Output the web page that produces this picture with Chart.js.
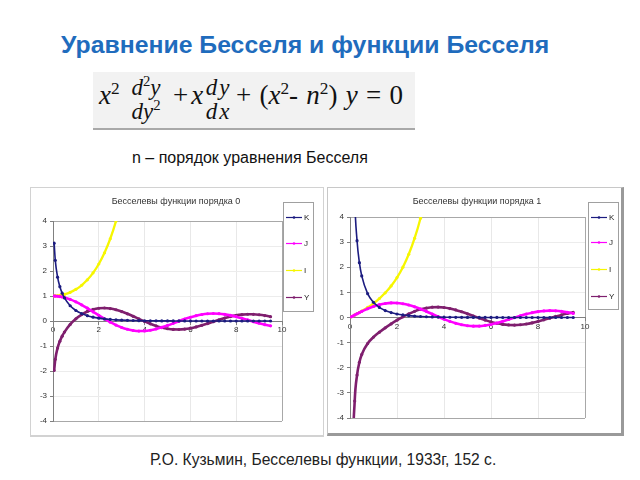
<!DOCTYPE html>
<html><head><meta charset="utf-8">
<script src="https://cdn.jsdelivr.net/npm/chart.js@4.4.0/dist/chart.umd.min.js"></script>
<style>
html,body{margin:0;padding:0;background:#fff;width:640px;height:480px;overflow:hidden;font-family:"Liberation Sans",Arial,sans-serif;}
.abs{position:absolute;white-space:nowrap;}
#title{left:61px;top:31px;font-weight:bold;font-size:24.8px;color:#1f6cbd;}
#eqbox{left:93px;top:72px;width:322px;height:56px;background:#f2f2f2;border-bottom:2px solid #a9a9a9;}
.eq{position:absolute;white-space:nowrap;font-family:"Liberation Serif","DejaVu Serif",serif;color:#111;line-height:1;}
.eq i{font-style:italic;}
.eq sup{font-size:0.64em;vertical-align:0.6em;line-height:0;font-style:normal;}
.m{font-size:27px;top:82px;}
.fn{font-size:23px;top:76px;text-align:center;}
.fd{font-size:23px;top:100px;text-align:center;}
#sub{left:132px;top:149px;font-size:16px;color:#111;}
#cap{left:150px;top:451px;font-size:15.6px;color:#222;}
.box{position:absolute;}
#c1{left:30px;top:187px;width:292px;height:247px;border:1px solid #d2d2d2;border-bottom:2px solid #d2d2d2;}
#c2{left:327px;top:187px;width:293px;height:245px;border:1px solid #c8c8c8;border-right:3px solid #9a9a9a;border-bottom:3px solid #9a9a9a;}
canvas{display:block;}
</style></head>
<body>
<div id="title" class="abs">Уравнение Бесселя и функции Бесселя</div>
<div id="eqbox" class="abs"></div>
<span class="eq m" style="left:99px"><i>x</i><sup>2</sup></span>
<span class="eq fn" style="left:128px;width:36px"><i>d</i><sup>2</sup><i>y</i></span>
<span class="eq fd" style="left:128px;width:36px"><i>dy</i><sup>2</sup></span>
<span class="eq m" style="left:173px">+<span style="margin-left:3px"></span><i>x</i></span>
<span class="eq fn" style="left:203px;width:31px;letter-spacing:2px"><i>dy</i></span>
<span class="eq fd" style="left:203px;width:31px;letter-spacing:2px"><i>dx</i></span>
<span class="eq m" style="left:236px;word-spacing:1.5px">+ (<i>x</i><sup>2</sup>- <i>n</i><sup>2</sup>) <i>y</i> = 0</span>
<div id="sub" class="abs">n – порядок уравнения Бесселя</div>
<div id="c1" class="box"><canvas id="ch1" width="292" height="247"></canvas></div>
<div id="c2" class="box"><canvas id="ch2" width="293" height="245"></canvas></div>
<div id="cap" class="abs">Р.О. Кузьмин, Бесселевы функции, 1933г, 152 с.</div>
<script>
// ---- data ----
const xValues = [0.05,0.1,0.2,0.3,0.4,0.5,0.75,1.0,1.25,1.5,1.75,2.0,2.25,2.5,2.75,3.0,3.25,3.5,3.75,4.0,4.25,4.5,4.75,5.0,5.25,5.5,5.75,6.0,6.25,6.5,6.75,7.0,7.25,7.5,7.75,8.0,8.25,8.5,8.75,9.0,9.25,9.5];
const seriesNames = ['K','J','I','Y'];
const chartTitles = ['Бесселевы функции порядка 0','Бесселевы функции порядка 1'];

const k0 = [3.114,2.427,1.753,1.372,1.115,0.924,0.611,0.421,0.298,0.214,0.155,0.114,0.084,0.062,0.046,0.035,0.026,0.020,0.015,0.011,0.0085,0.0064,0.0049,0.0037,0.0028,0.0022,0.0017,0.0012,0.0010,0.0007,0.0006,0.0004,0.0003,0.0003,0.0002,0.0001,0.0001,0.0001,0.0001,0.0001,0.0001,0.0000];
const j0 = [0.9994,0.9975,0.9900,0.9776,0.9604,0.9385,0.8642,0.7652,0.6459,0.5118,0.3690,0.2239,0.0825,-0.0484,-0.1641,-0.2601,-0.3304,-0.3801,-0.4010,-0.3971,-0.3694,-0.3205,-0.2539,-0.1776,-0.0944,-0.0068,0.0762,0.1506,0.2134,0.2601,0.2895,0.3001,0.2919,0.2663,0.2255,0.1717,0.1093,0.0419,-0.0259,-0.0903,-0.1477,-0.1939];
const i0 = [1.0006,1.0025,1.0100,1.0226,1.0404,1.0635,1.1456,1.2661,1.4296,1.6467,1.9252,2.2796,2.7271,3.2898,3.9960,4.8808,5.989,null,null,null,null,null,null,null,null,null,null,null,null,null,null,null,null,null,null,null,null,null,null,null,null,null];
const y0 = [-1.979,-1.534,-1.081,-0.807,-0.606,-0.444,-0.137,0.088,0.258,0.382,0.464,0.510,0.520,0.498,0.450,0.377,0.288,0.189,0.084,-0.017,-0.112,-0.195,-0.261,-0.309,-0.336,-0.339,-0.324,-0.288,-0.237,-0.173,-0.102,-0.026,0.048,0.117,0.177,0.224,0.255,0.270,0.269,0.250,0.217,0.172];

const k1 = [19.91,9.854,4.776,3.056,2.184,1.656,0.950,0.602,0.402,0.277,0.195,0.140,0.101,0.074,0.054,0.040,0.030,0.022,0.017,0.0125,0.0094,0.0071,0.0054,0.0040,0.0031,0.0024,0.0018,0.0013,0.0010,0.0008,0.0006,0.0005,0.0004,0.0003,0.0002,0.0002,0.0001,0.0001,0.0001,0.0001,0.0001,0.0001];
const j1 = [0.0250,0.0499,0.0995,0.1483,0.1960,0.2423,0.3492,0.4401,0.5106,0.5579,0.5802,0.5767,0.5480,0.4971,0.4257,0.3391,0.2410,0.1374,0.0333,-0.0660,-0.1551,-0.2311,-0.2888,-0.3276,-0.3438,-0.3414,-0.3169,-0.2767,-0.2197,-0.1538,-0.0805,-0.0047,0.0686,0.1352,0.1914,0.2346,0.2618,0.2731,0.2668,0.2453,0.2089,0.1613];
const i1 = [0.0250,0.0501,0.1005,0.1517,0.2040,0.2579,0.4020,0.5652,0.7553,0.9817,1.2555,1.5906,2.0040,2.5167,3.1554,3.9534,4.9525,null,null,null,null,null,null,null,null,null,null,null,null,null,null,null,null,null,null,null,null,null,null,null,null,null];
const y1 = [-12.79,-6.459,-3.324,-2.293,-1.781,-1.471,-1.037,-0.781,-0.584,-0.412,-0.254,-0.107,0.028,0.146,0.245,0.325,0.377,0.410,0.413,0.398,0.356,0.301,0.228,0.148,0.060,-0.024,-0.104,-0.175,-0.232,-0.274,-0.297,-0.303,-0.289,-0.259,-0.214,-0.158,-0.094,-0.026,0.041,0.104,0.159,0.203];

// ---- styles ----
const seriesColors = ['#1c1c80','#ff00ff','#f6f600','#7f1f6e'];
const seriesWidths = [1.6,2.6,2.3,2.6];
const FONT = '"Liberation Sans", Arial, sans-serif';

const overlay = {
  id: 'overlay',
  afterDraw(chart, args, o) {
    const ctx = chart.ctx;
    ctx.save();
    ctx.font = '9px ' + FONT;
    ctx.fillStyle = '#333';
    ctx.textAlign = 'center';
    ctx.textBaseline = 'middle';
    ctx.fillText(o.title, o.titleX, o.titleY);
    const L = o.legend;
    ctx.fillStyle = '#fff';
    ctx.fillRect(L.x, L.y, L.w, L.h);
    ctx.strokeStyle = '#a0a0a0';
    ctx.lineWidth = 1;
    ctx.strokeRect(L.x + 0.5, L.y + 0.5, L.w, L.h);
    ctx.font = '8px ' + FONT;
    ctx.textAlign = 'left';
    chart.data.datasets.forEach((ds, i) => {
      const y = L.items[i] + 0.5;
      ctx.strokeStyle = ds.borderColor;
      ctx.lineWidth = 1.2;
      ctx.beginPath(); ctx.moveTo(L.x + 3, y); ctx.lineTo(L.x + 19, y); ctx.stroke();
      ctx.fillStyle = ds.borderColor;
      ctx.beginPath(); ctx.arc(L.x + 11, y, 1.3, 0, Math.PI * 2); ctx.fill();
      ctx.fillStyle = '#222';
      ctx.fillText(ds.label, L.x + 21, y);
    });
    ctx.restore();
  }
};

function gridColorY(c) {
  const v = c.tick ? c.tick.value : null;
  if (v === 0) return '#808080';
  if (v === 4 || v === -4) return '#a8a8a8';
  return '#ececec';
}
function gridColorX(c) {
  const v = c.tick ? c.tick.value : null;
  if (v === 0) return '#808080';
  if (v === 10) return '#a8a8a8';
  return '#e8e8e8';
}

function makeChart(id, title, series, geom) {
  const datasets = series.map((vals, i) => ({
    label: seriesNames[i],
    data: xValues.map((x, k) => ({x: x, y: vals[k]})),
    borderColor: seriesColors[i],
    backgroundColor: seriesColors[i],
    pointBackgroundColor: seriesColors[i],
    pointBorderWidth: 0,
    pointRadius: 1.6,
    borderWidth: seriesWidths[i],
    cubicInterpolationMode: 'monotone',
    spanGaps: false
  }));
  return new Chart(document.getElementById(id), {
    type: 'line',
    data: {datasets},
    plugins: [overlay],
    options: {
      responsive: false,
      animation: false,
      devicePixelRatio: 1,
      layout: {padding: geom.padding},
      plugins: {
        legend: {display: false},
        tooltip: {enabled: false},
        title: {display: false},
        overlay: {title: title, titleX: geom.titleX, titleY: geom.titleY, legend: geom.legend}
      },
      scales: {
        x: {
          type: 'linear', min: 0, max: 10,
          position: {y: 0},
          ticks: {stepSize: 2, color: '#333', font: {size: 8, family: FONT}, padding: 1, maxRotation: 0, autoSkip: false},
          grid: {color: gridColorX, tickColor: '#808080', tickLength: 3, lineWidth: 1},
          border: {display: true, color: '#808080'},
          afterFit(s) { s.paddingLeft = 0; s.paddingRight = 0; }
        },
        y: {
          type: 'linear', min: -4, max: 4,
          ticks: {stepSize: 1, color: '#333', font: {size: 8, family: FONT}, padding: 3},
          grid: {color: gridColorY, tickColor: '#808080', tickLength: 3, lineWidth: 1},
          border: {display: true, color: '#808080'},
          afterFit(s) { s.width = 22; s.paddingTop = 0; s.paddingBottom = 0; }
        }
      }
    }
  });
}

makeChart('ch1', chartTitles[0], [k0, j0, i0, y0], {
  padding: {left: 0, top: 33, right: 41, bottom: 14},
  titleX: 145, titleY: 14,
  legend: {x: 252, y: 14, w: 30, h: 109, items: [29, 55, 82, 109]}
});
makeChart('ch2', chartTitles[1], [k1, j1, i1, y1], {
  padding: {left: 0, top: 29, right: 36, bottom: 15},
  titleX: 149, titleY: 14,
  legend: {x: 260, y: 14, w: 30, h: 107, items: [29, 54, 81, 108]}
});
</script>
</body></html>
